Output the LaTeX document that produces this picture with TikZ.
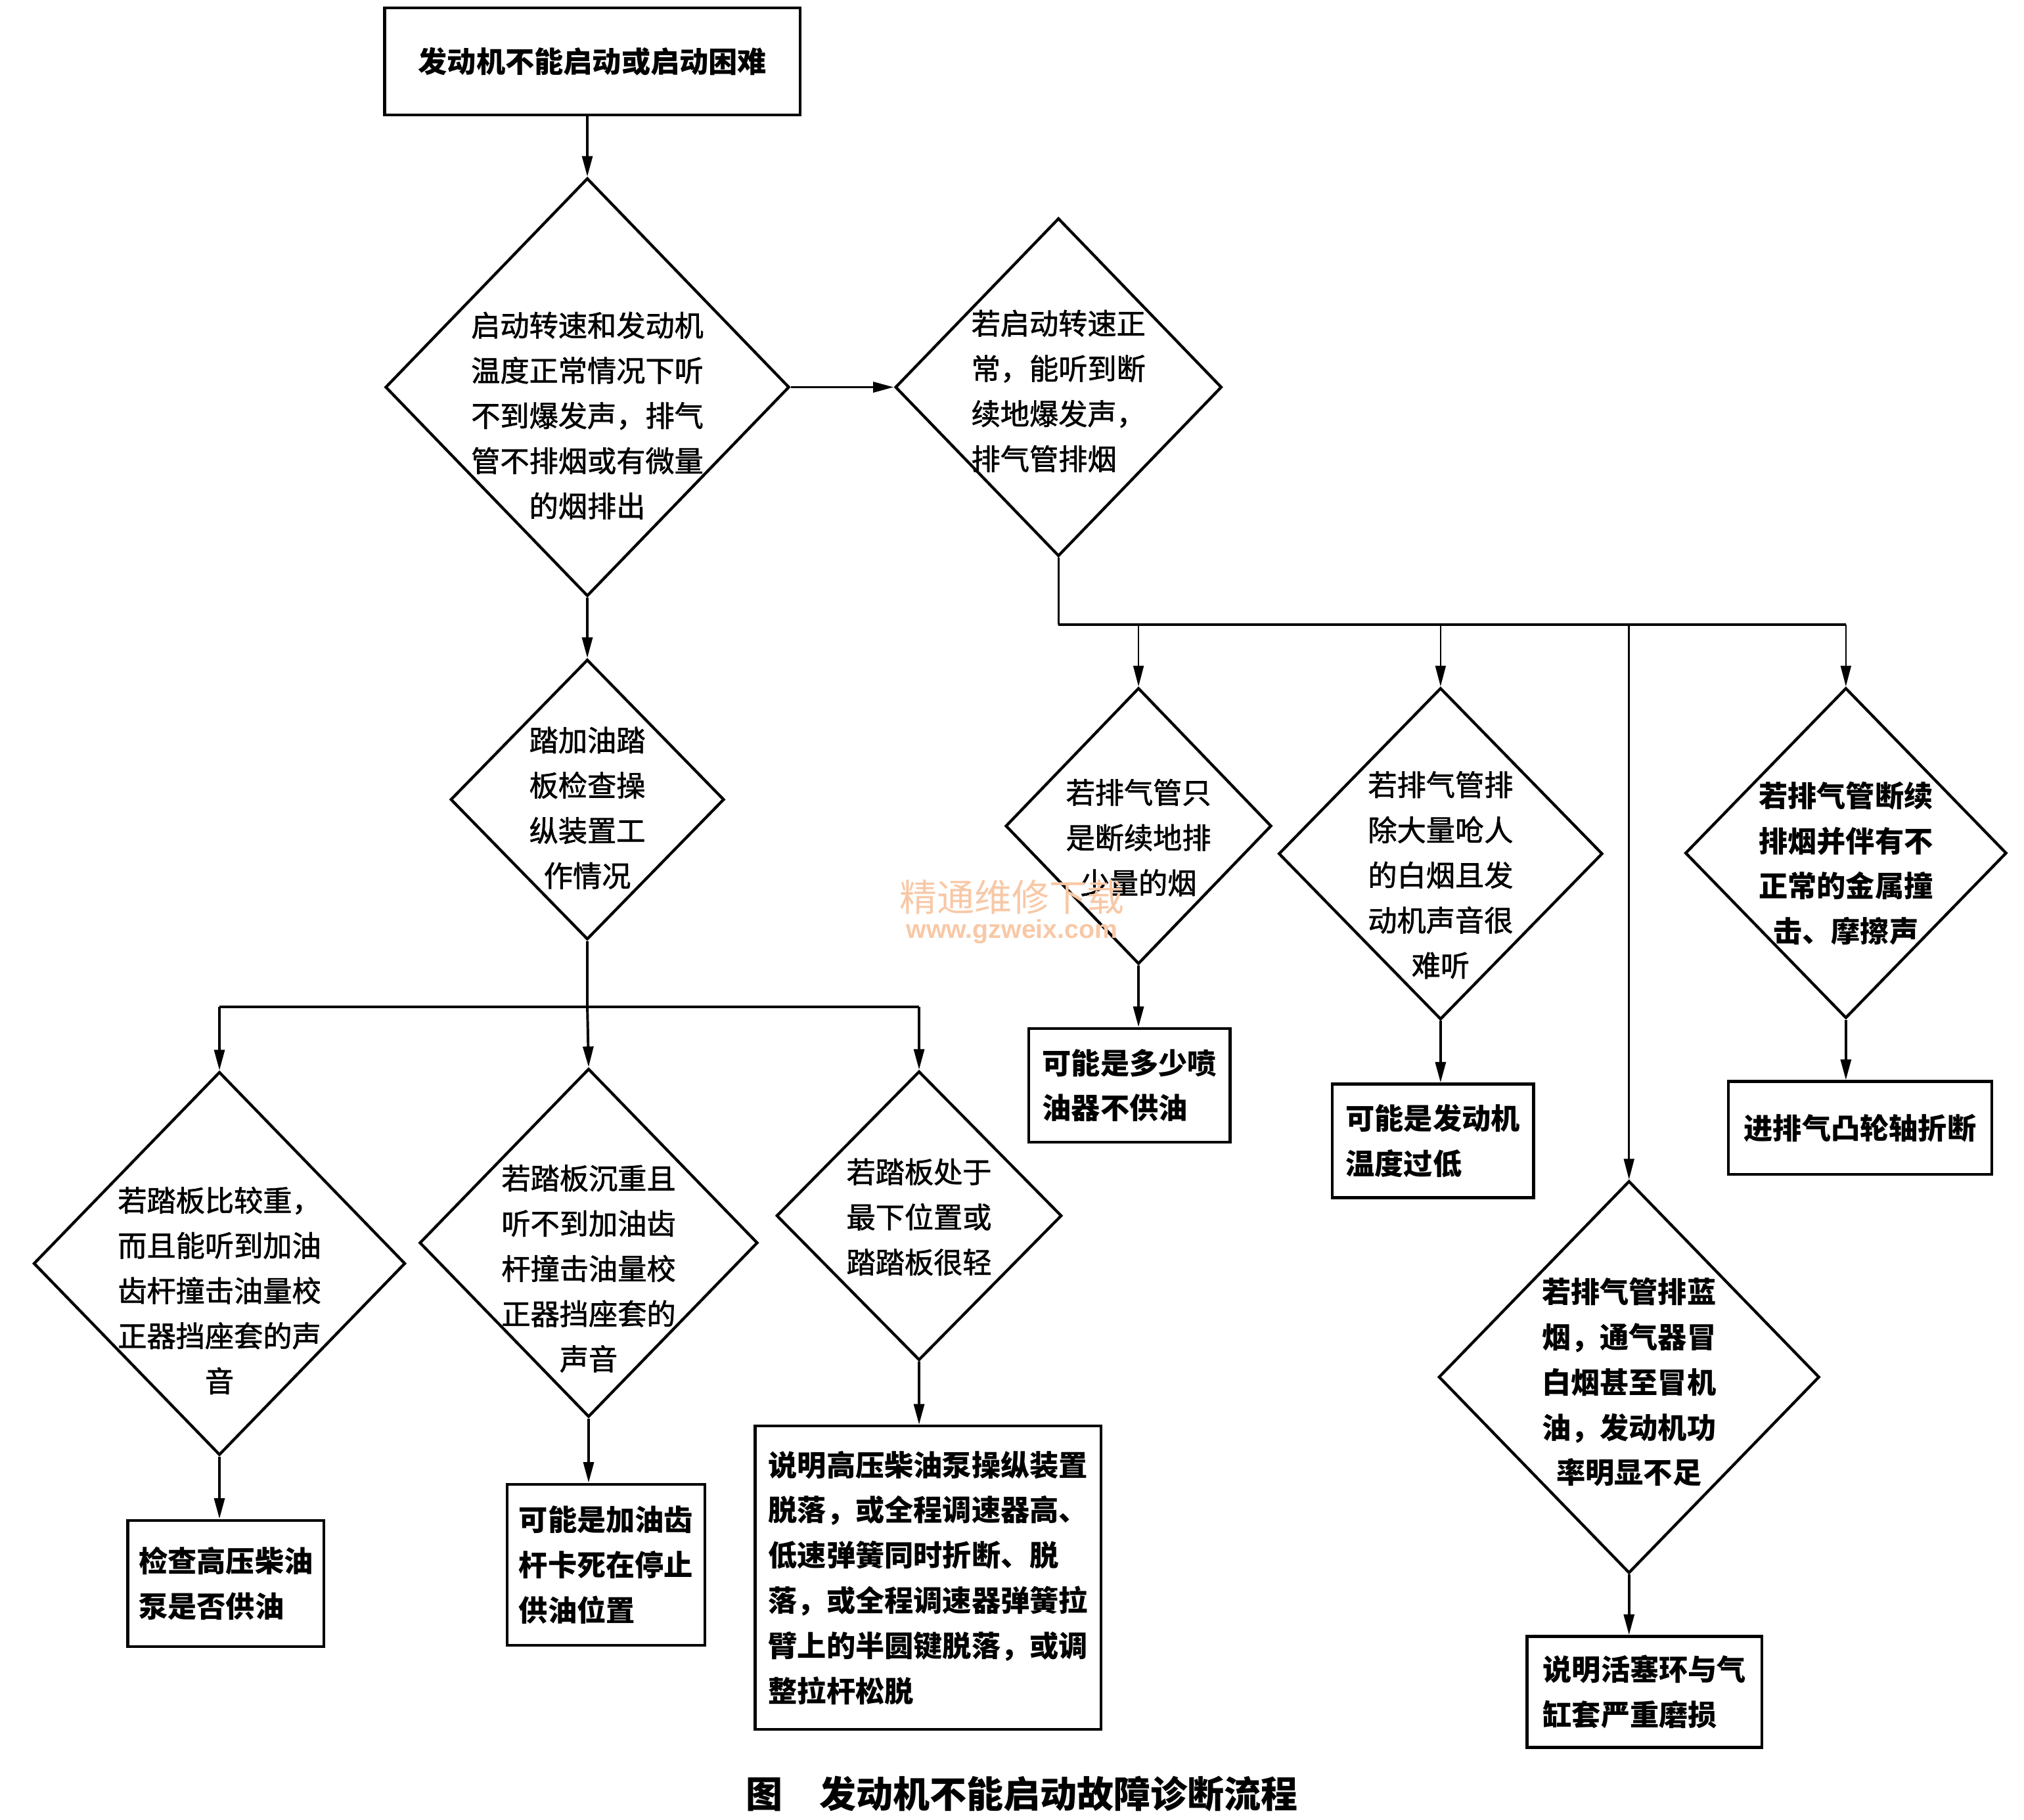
\documentclass[tikz,border=0pt]{standalone}
\usepackage{fontspec}
\newfontfamily\cjk{Noto Sans CJK SC}
\newfontfamily\cjkmid[FakeBold=1.4]{Noto Sans CJK SC}
\newfontfamily\wmfont{Liberation Sans}
\usetikzlibrary{shapes.geometric, arrows.meta, calc}
\definecolor{wmark}{RGB}{248,200,166}

\begin{document}
\begin{tikzpicture}[x = 1pt, y = -1pt,
	decision/.style = {diamond, draw, line width = 2.2pt, inner sep = 0pt},
	dtext/.style = {align = center, inner sep = 0pt, font = \cjkmid\fontsize{22.5}{35}\selectfont},
	dbold/.style = {dtext, font = \cjk\bfseries\fontsize{22.5}{35}\selectfont},
	result/.style = {draw, line width = 2.2pt, align = left, inner sep = 0pt, font = \cjk\bfseries\fontsize{22.5}{35}\selectfont},
	flow/.style = {-{Triangle[length = 16pt, width = 8pt]}, line width = 2pt},
	thinflow/.style = {-{Triangle[length = 16pt, width = 8pt]}, line width = 1.3pt}]
				\useasboundingbox (0, 0) rectangle (1568, 1410);
				
				% start
				\node[result, minimum width = 322pt, minimum height = 83pt] (start) at (459, 47.5) {发动机不能启动或启动困难};
				
				% decisions
				\node[decision, minimum width = 313pt, minimum height = 324pt] (d1) at (455, 300) {};
				\node[decision, minimum width = 253pt, minimum height = 262pt] (d2) at (820, 300) {};
				\node[decision, minimum width = 212pt, minimum height = 217pt] (d3) at (455, 619.5) {};
				\node[decision, minimum width = 206pt, minimum height = 214pt] (d4) at (882, 640) {};
				\node[decision, minimum width = 251pt, minimum height = 257pt] (d5) at (1116, 661.5) {};
				\node[decision, minimum width = 249pt, minimum height = 256pt] (d6) at (1430, 661) {};
				\node[decision, minimum width = 295pt, minimum height = 304pt] (d7) at (1262, 1067) {};
				\node[decision, minimum width = 288pt, minimum height = 297pt] (dl1) at (170, 979) {};
				\node[decision, minimum width = 262pt, minimum height = 270pt] (dl2) at (456, 963) {};
				\node[decision, minimum width = 221pt, minimum height = 224pt] (dl3) at (712, 942) {};
				
				% decision texts
				\node[dtext] (t1) at (455, 322) {启动转速和发动机\\温度正常情况下听\\不到爆发声，排气\\管不排烟或有微量\\的烟排出};
				\node[dtext, align = left] (t2) at (820, 303) {若启动转速正\\常，能听到断\\续地爆发声，\\排气管排烟};
				\node[dtext] (t3) at (455, 626) {踏加油踏\\板检查操\\纵装置工\\作情况};
				\node[dtext] (t4) at (882, 649) {若排气管只\\是断续地排\\少量的烟};
				\node[dtext] (t5) at (1116, 678) {若排气管排\\除大量呛人\\的白烟且发\\动机声音很\\难听};
				\node[dbold] (t6) at (1430, 669) {若排气管断续\\排烟并伴有不\\正常的金属撞\\击、摩擦声};
				\node[dbold] (t7) at (1262, 1071) {若排气管排蓝\\烟，通气器冒\\白烟甚至冒机\\油，发动机功\\率明显不足};
				\node[dtext] (tl1) at (170, 1000) {若踏板比较重，\\而且能听到加油\\齿杆撞击油量校\\正器挡座套的声\\音};
				\node[dtext] (tl2) at (456, 983) {若踏板沉重且\\听不到加油齿\\杆撞击油量校\\正器挡座套的\\声音};
				\node[dtext] (tl3) at (712, 943) {若踏板处于\\最下位置或\\踏踏板很轻};
				
				% results
				\node[result, minimum width = 156pt, minimum height = 88pt] (b4) at (875, 841) {可能是多少喷\\油器不供油};
				\node[result, minimum width = 156pt, minimum height = 88pt] (b5) at (1110, 884) {可能是发动机\\温度过低};
				\node[result, minimum width = 204pt, minimum height = 72pt] (b6) at (1441, 874) {进排气凸轮轴折断};
				\node[result, minimum width = 182pt, minimum height = 86pt] (b7) at (1274, 1311) {说明活塞环与气\\缸套严重磨损};
				\node[result, minimum width = 152pt, minimum height = 98pt] (bl1) at (175, 1227) {检查高压柴油\\泵是否供油};
				\node[result, minimum width = 153pt, minimum height = 125pt] (bl2) at (469.5, 1212.5) {可能是加油齿\\杆卡死在停止\\供油位置};
				\node[result, minimum width = 268pt, minimum height = 235pt] (bl3) at (719, 1222.5) {说明高压柴油泵操纵装置\\脱落，或全程调速器高、\\低速弹簧同时折断、脱\\落，或全程调速器弹簧拉\\臂上的半圆键脱落，或调\\整拉杆松脱};
				
				% arrows
				\draw[flow] (start.south -| d1.north) -- (d1.north);
				\draw[flow] (d1.east) -- (d2.west);
				\draw[flow] (d1.south) -- (d3.north);
				
				\coordinate (rbus) at ($(d2.south) + (0, 52)$);
				\draw[line width = 1.3pt] (d2.south) -- (rbus);
				\draw[line width = 2.2pt] (rbus) -- (rbus -| d6.north);
				\draw[thinflow] (rbus -| d4.north) -- (d4.north);
				\draw[thinflow] (rbus -| d5.north) -- (d5.north);
				\draw[thinflow] (rbus -| d7.north) -- (d7.north);
				\draw[thinflow] (rbus -| d6.north) -- (d6.north);
				
				\coordinate (lbus) at ($(d3.south) + (0, 51)$);
				\draw[line width = 1.8pt] (d3.south) -- (lbus);
				\draw[line width = 2.2pt] (lbus -| dl1.north) -- (lbus -| dl3.north);
				\draw[flow] (lbus -| dl1.north) -- (dl1.north);
				\draw[flow] (lbus) -- (dl2.north);
				\draw[flow] (lbus -| dl3.north) -- (dl3.north);
				
				\draw[flow] (d4.south) -- (d4.south |- b4.north);
				\draw[flow] (d5.south) -- (d5.south |- b5.north);
				\draw[flow] (d6.south) -- (d6.south |- b6.north);
				\draw[flow] (d7.south) -- (d7.south |- b7.north);
				\draw[flow] (dl1.south) -- (dl1.south |- bl1.north);
				\draw[flow] (dl2.south) -- (dl2.south |- bl2.north);
				\draw[flow] (dl3.south) -- (dl3.south |- bl3.north);
				
				% watermark
				\node[text = wmark, inner sep = 0pt, font = \cjk\fontsize{29}{29}\selectfont] (wm) at (784, 695) {精通维修下载};
				\node[text = wmark, inner sep = 0pt, font = \wmfont\bfseries\fontsize{20}{20}\selectfont] (url) at (784, 722) {www.gzweix.com};
				
				% caption
				\node[inner sep = 0pt, font = \cjk\bfseries\fontsize{28.5}{30}\selectfont] (caption) at (791.5, 1390) {图　发动机不能启动故障诊断流程};
				
			\end{tikzpicture}
\end{document}
